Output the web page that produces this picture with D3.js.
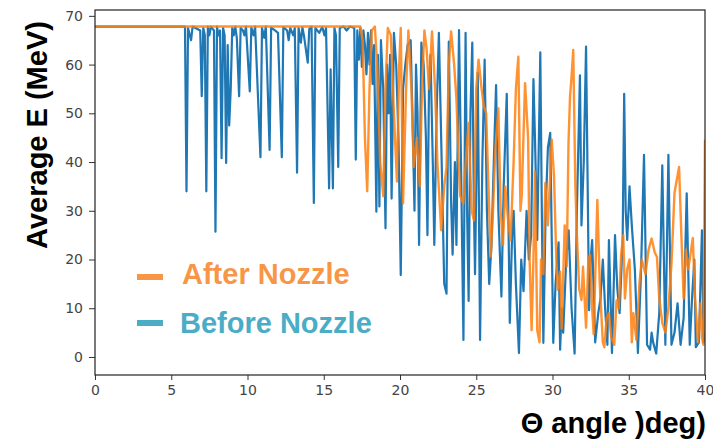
<!DOCTYPE html>
<html>
<head>
<meta charset="utf-8">
<script src="https://cdn.jsdelivr.net/npm/d3@7"></script>
<style>
  html, body { margin: 0; padding: 0; background: #fff; }
  svg { display: block; }
</style>
</head>
<body>
<svg id="chart" width="713" height="442"></svg>
<script>
// Average energy vs. polar angle, before and after the nozzle.
const beforeAngle = [
  0, 5.9, 6.0, 6.1, 6.3, 6.4, 6.9, 7.0, 7.1, 7.2, 7.3, 7.4, 7.5, 7.6, 7.8, 7.9, 8.0, 8.1, 8.2, 8.3,
  8.4, 8.5, 8.6, 8.7, 8.8, 8.9, 9.0, 9.1, 9.2, 9.3, 9.45, 9.55, 9.7, 9.8, 9.9, 10.15, 10.25, 10.4, 10.5, 10.85,
  10.95, 11.1, 11.2, 11.45, 11.55, 11.8, 12.0, 12.25, 12.35, 12.6, 12.7, 12.8, 13.0, 13.1, 13.25, 13.35, 13.5, 13.6, 13.7, 13.95,
  14.05, 14.2, 14.35, 14.45, 14.7, 14.9, 15.05, 15.15, 15.35, 15.45, 15.6, 15.7, 15.8, 15.95, 16.05, 16.3, 16.5, 16.7, 17.0, 17.1,
  17.2, 17.3, 17.4, 17.5, 17.6, 17.7, 17.8, 17.9, 18.0, 18.1, 18.2, 18.3, 18.45, 18.55, 18.65, 18.75, 18.9, 19.05, 19.15, 19.25,
  19.35, 19.45, 19.6, 19.75, 19.9, 20.05, 20.2, 20.35, 20.5, 20.7, 20.85, 20.95, 21.05, 21.15, 21.25, 21.4, 21.55, 21.7, 21.8, 21.9,
  22.0, 22.15, 22.25, 22.4, 22.55, 22.7, 22.9, 23.05, 23.2, 23.35, 23.45, 23.6, 23.7, 23.87, 24.0, 24.16, 24.3, 24.4, 24.5, 24.62,
  24.74, 24.85, 24.92, 25.1, 25.25, 25.4, 25.55, 25.7, 25.85, 26.0, 26.15, 26.3, 26.45, 26.65, 26.8, 27.0, 27.2, 27.35, 27.45, 27.6,
  27.8, 27.95, 28.1, 28.3, 28.45, 28.6, 28.75, 28.85, 29.0, 29.2, 29.3, 29.4, 29.55, 29.7, 29.85, 30.05, 30.2, 30.4, 30.5, 30.6,
  30.7, 30.9, 31.06, 31.25, 31.45, 31.6, 31.8, 31.9, 32.05, 32.2, 32.4, 32.5, 32.6, 32.8, 33.0, 33.15, 33.3, 33.45, 33.6, 33.7,
  33.9, 34.1, 34.25, 34.4, 34.6, 34.7, 34.8, 34.9, 35.05, 35.2, 35.4, 35.6, 35.8, 36.0, 36.2, 36.4, 36.5, 36.6, 36.8, 37.0,
  37.2, 37.4, 37.6, 37.8, 38.0, 38.2, 38.4, 38.6, 38.8, 39.0, 39.15, 39.3, 39.4, 39.6, 39.8, 39.9, 40.0
];
const beforeE = [
  67.8, 67.8, 34, 67.5, 65, 67.8, 67, 53.5, 67.5, 66, 34, 67.8, 66, 67.8, 67, 25.7, 67.8, 66, 67, 40.8,
  67.5, 66, 39.8, 64, 47.5, 55, 67.5, 66, 67.8, 65.5, 53.5, 67.5, 67, 66, 67.8, 54.5, 67.6, 66, 67.8, 41,
  67.5, 65.5, 67.8, 42.5, 67.6, 67, 66.5, 41, 67.7, 67, 65, 67.5, 66, 67.5, 37.8, 67.5, 64.5, 67.6, 66, 60.4,
  67.3, 67.8, 31.6, 67.5, 66.5, 67.7, 66, 67.5, 34.6, 59, 34.6, 67.5, 66, 39, 67.5, 67.8, 67, 67.8, 67.5, 40.5,
  67, 61, 67.5, 59.5, 67, 64, 58, 66.5, 60, 67, 56, 64, 29.8, 62, 30.9, 65, 55, 26.4, 60, 50,
  62, 32.5, 66.5, 60, 45, 16.8, 55, 60, 64, 65, 45, 30, 60, 50, 23, 64.5, 60, 45, 25, 55,
  62, 40, 23, 50, 66.5, 45, 15, 13, 64.7, 32, 21, 40, 23, 67.1, 40, 3.5, 66.5, 30, 11.5, 50,
  64.5, 30, 17, 58.3, 3.5, 40, 61, 30, 15, 23, 40, 55.8, 30, 12.4, 35, 54, 7, 25, 30, 15,
  0.8, 20, 13.5, 30, 20, 25, 57, 45, 24, 62.5, 30, 2.9, 30, 43, 46, 2.9, 15, 23.5, 1.5, 10,
  5, 20, 26, 10, 0.7, 30, 57.8, 27, 40, 63.7, 9.6, 20, 24, 3, 9, 12, 20, 10, 2.5, 24,
  0.8, 25, 14, 9, 24, 54, 30, 24, 35, 27, 18, 0.8, 17, 41.5, 2.5, 1.5, 5, 3, 0.7, 9,
  39.3, 2.5, 41.5, 2.5, 5, 11, 2.5, 8, 33.6, 2.5, 12, 20, 2, 3, 26, 3, 5
];

const afterAngle = [
  0, 17.4, 17.55, 17.7, 17.85, 18.0, 18.15, 18.35, 18.5, 18.7, 18.9, 19.05, 19.2, 19.4, 19.6, 19.8, 19.95, 20.05, 20.2, 20.4,
  20.55, 20.75, 20.9, 21.1, 21.3, 21.45, 21.6, 21.75, 21.9, 22.1, 22.3, 22.45, 22.7, 22.9, 23.05, 23.2, 23.35, 23.55, 23.7, 23.85,
  23.95, 24.15, 24.35, 24.5, 24.7, 24.85, 25.0, 25.15, 25.35, 25.5, 25.65, 25.8, 25.95, 26.1, 26.25, 26.45, 26.6, 26.75, 26.9, 27.1,
  27.25, 27.45, 27.6, 27.76, 27.9, 27.98, 28.2, 28.4, 28.5, 28.63, 28.75, 28.85, 29.0, 29.15, 29.25, 29.4, 29.53, 29.7, 29.95, 30.1,
  30.25, 30.35, 30.5, 30.6, 30.8, 30.93, 31.05, 31.15, 31.25, 31.36, 31.5, 31.6, 31.75, 31.9, 32.0, 32.2, 32.35, 32.46, 32.6, 32.7,
  32.94, 33.1, 33.3, 33.4, 33.55, 33.7, 33.85, 34.05, 34.2, 34.35, 34.5, 34.64, 34.75, 34.9, 35.05, 35.2, 35.3, 35.5, 35.7, 35.85,
  36.1, 36.3, 36.5, 36.7, 36.85, 37.0, 37.2, 37.4, 37.6, 37.8, 38.0, 38.3, 38.45, 38.6, 38.75, 38.9, 39.2, 39.35, 39.55, 39.7,
  39.8, 39.9, 40.0
];
const afterE = [
  67.8, 67.8, 65, 45, 34, 55, 67, 67.8, 60, 40, 33, 55, 67.5, 66, 50, 36, 60, 67.5, 31.5, 55,
  67, 55, 39, 45, 35, 56, 67, 63, 55, 66.8, 55, 40, 26, 35, 39, 60, 66.8, 60, 53, 40,
  33, 31.5, 42, 48, 30, 28, 55, 61, 55, 51.4, 50, 35, 20.6, 30, 42.5, 51, 30, 23, 35, 27.5,
  24, 40, 55, 61.6, 30, 33, 56.2, 45, 20, 5.5, 20, 38, 5.5, 3, 20, 17, 35.7, 27, 44.6, 37,
  20, 13.8, 17.5, 5.8, 27, 18.5, 44, 53.5, 57.5, 63, 35, 25, 14, 11.7, 18.5, 6, 20, 21, 10, 4.7,
  32.2, 15, 3, 2, 8, 9, 4, 2.5, 11.6, 10, 21, 25, 12, 18, 20, 3, 9, 3.5, 15, 20,
  17, 22, 24.3, 21.5, 20.5, 12, 7, 5, 10, 19, 33.7, 39, 25, 12, 22, 18, 24.4, 12, 3, 11,
  4, 2.5, 44.6
];

const xTicks = [0, 5, 10, 15, 20, 25, 30, 35, 40];
const yTicks = [0, 10, 20, 30, 40, 50, 60, 70];

const seriesNames = ["After Nozzle", "Before Nozzle"];
const lineColors = { before: "#1f77b4", after: "#ff7f0e" };
const legendColors = ["#f79646", "#4bacc6"];

const svg = d3.select("#chart");
const plot = { left: 95, right: 705, top: 10, bottom: 375 };

const x = d3.scaleLinear().domain([0, 40]).range([plot.left, plot.right]);
const y = d3.scaleLinear().domain([-3.7, 71.2]).range([plot.bottom, plot.top]);

const tickFont = "'DejaVu Sans', sans-serif";
const boldFont = "'Liberation Sans', Arial, sans-serif";

// Axes
const xAxis = svg.append("g")
  .attr("transform", `translate(0,${plot.bottom})`)
  .call(d3.axisBottom(x).tickValues(xTicks).tickFormat(d3.format("d")).tickSizeOuter(0).tickSize(5).tickPadding(5));
const yAxis = svg.append("g")
  .attr("transform", `translate(${plot.left},0)`)
  .call(d3.axisLeft(y).tickValues(yTicks).tickFormat(d3.format("d")).tickSizeOuter(0).tickSize(6).tickPadding(6));

[xAxis, yAxis].forEach(g => {
  g.select(".domain").remove();
  g.selectAll(".tick line").attr("stroke", "#333").attr("stroke-width", 1);
  g.selectAll(".tick text")
    .attr("fill", "#444")
    .style("font-family", tickFont)
    .style("font-size", "14px");
});

// Lines
const clipId = "plot-clip";
svg.append("clipPath").attr("id", clipId)
  .append("rect")
  .attr("x", plot.left).attr("y", plot.top)
  .attr("width", plot.right - plot.left).attr("height", plot.bottom - plot.top);

const line = d3.line().x(d => x(d[0])).y(d => y(d[1]));
const beforePts = beforeAngle.map((a, i) => [a, beforeE[i]]);
const afterPts = afterAngle.map((a, i) => [a, afterE[i]]);

const lines = svg.append("g").attr("clip-path", `url(#${clipId})`);
lines.append("path")
  .datum(beforePts)
  .attr("d", line)
  .attr("fill", "none")
  .attr("stroke", lineColors.before)
  .attr("stroke-width", 2.2)
  .attr("stroke-linejoin", "round");
lines.append("path")
  .datum(afterPts)
  .attr("d", line)
  .attr("fill", "none")
  .attr("stroke", lineColors.after)
  .attr("stroke-opacity", 0.85)
  .attr("stroke-width", 2.4)
  .attr("stroke-linejoin", "round");

// Frame
svg.append("rect")
  .attr("x", plot.left).attr("y", plot.top)
  .attr("width", plot.right - plot.left).attr("height", plot.bottom - plot.top)
  .attr("fill", "none").attr("stroke", "#222").attr("stroke-width", 1.2);

// Legend
const legendRows = [
  { name: seriesNames[0], color: legendColors[0], lineY: 277, textY: 284, textX: 182 },
  { name: seriesNames[1], color: legendColors[1], lineY: 323, textY: 333, textX: 180 }
];
const legend = svg.append("g");
legendRows.forEach(r => {
  legend.append("line")
    .attr("x1", 137).attr("x2", 163)
    .attr("y1", r.lineY).attr("y2", r.lineY)
    .attr("stroke", r.color).attr("stroke-width", 6);
  legend.append("text")
    .attr("x", r.textX).attr("y", r.textY)
    .attr("fill", r.color)
    .style("font-family", boldFont)
    .style("font-weight", "bold")
    .style("font-size", "29px")
    .text(r.name);
});

// Axis titles
svg.append("text")
  .attr("transform", `translate(47,${(20 + 250) / 2}) rotate(-90)`)
  .attr("text-anchor", "middle")
  .attr("fill", "#000")
  .style("font-family", boldFont)
  .style("font-weight", "bold")
  .style("font-size", "29px")
  .text("Average E (MeV)");

svg.append("text")
  .attr("x", 706).attr("y", 433)
  .attr("text-anchor", "end")
  .attr("fill", "#000")
  .style("font-family", boldFont)
  .style("font-weight", "bold")
  .style("font-size", "29px")
  .text("Θ angle )deg)");
</script>
</body>
</html>
